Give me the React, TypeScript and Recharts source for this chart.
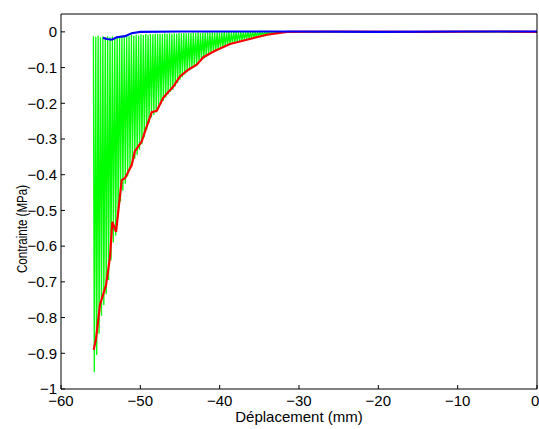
import React from 'react'
import { LineChart, Line, XAxis, YAxis } from 'recharts'

// displacement (mm) / stress (MPa)
const greenX = [
  -55.92, -55.8, -55.62, -55.5, -55.32, -55.2, -55.02, -54.9, -54.72, -54.6,
  -54.42, -54.3, -54.12, -54.0, -53.82, -53.7, -53.52, -53.4, -53.22, -53.1,
  -52.92, -52.8, -52.62, -52.5, -52.32, -52.2, -52.02, -51.9, -51.72, -51.6,
  -51.42, -51.3, -51.12, -51.0, -50.82, -50.7, -50.52, -50.4, -50.22, -50.1,
  -49.92, -49.8, -49.62, -49.5, -49.32, -49.2, -49.02, -48.9, -48.72, -48.6,
  -48.42, -48.3, -48.12, -48.0, -47.82, -47.7, -47.52, -47.4, -47.22, -47.1,
  -46.92, -46.8, -46.62, -46.5, -46.32, -46.2, -46.02, -45.9, -45.72, -45.6,
  -45.42, -45.3, -45.12, -45.0, -44.82, -44.7, -44.52, -44.4, -44.22, -44.1,
  -43.92, -43.8, -43.62, -43.5, -43.32, -43.2, -43.02, -42.9, -42.72, -42.6,
  -42.42, -42.3, -42.12, -42.0, -41.82, -41.7, -41.52, -41.4, -41.22, -41.1,
  -40.92, -40.8, -40.62, -40.5, -40.32, -40.2, -40.02, -39.9, -39.72, -39.6,
  -39.42, -39.3, -39.12, -39.0, -38.82, -38.7, -38.52, -38.4, -38.22, -38.1,
  -37.92, -37.8, -37.62, -37.5, -37.32, -37.2, -37.02, -36.9, -36.72, -36.6,
  -36.42, -36.3, -36.12, -36.0, -35.82, -35.7, -35.52, -35.4, -35.22, -35.1,
  -34.92, -34.8, -34.62, -34.5, -34.32, -34.2, -34.02, -33.9, -33.72, -33.6,
  -33.42, -33.3, -33.12, -33.0, -32.82, -32.7, -32.52, -32.4, -32.22, -32.1,
  -31.92, -20, 0,
]
const greenY = [
  -0.012, -0.953, -0.014, -0.905, -0.011, -0.845, -0.015, -0.795, -0.013, -0.765,
  -0.016, -0.735, -0.012, -0.695, -0.015, -0.64, -0.013, -0.59, -0.016, -0.57,
  -0.012, -0.52, -0.014, -0.475, -0.011, -0.445, -0.013, -0.425, -0.01, -0.405,
  -0.012, -0.385, -0.009, -0.37, -0.011, -0.355, -0.008, -0.345, -0.01, -0.33,
  -0.007, -0.315, -0.009, -0.295, -0.006, -0.275, -0.008, -0.255, -0.006, -0.24,
  -0.007, -0.233, -0.005, -0.226, -0.006, -0.214, -0.005, -0.203, -0.006, -0.193,
  -0.004, -0.184, -0.005, -0.175, -0.004, -0.168, -0.005, -0.162, -0.004, -0.153,
  -0.005, -0.143, -0.003, -0.134, -0.004, -0.127, -0.003, -0.119, -0.004, -0.113,
  -0.003, -0.108, -0.003, -0.103, -0.002, -0.099, -0.003, -0.095, -0.002, -0.087,
  -0.003, -0.081, -0.002, -0.075, -0.002, -0.069, -0.001, -0.065, -0.002, -0.061,
  -0.001, -0.058, -0.002, -0.055, -0.001, -0.051, -0.001, -0.048, -0.001, -0.045,
  0, -0.042, -0.001, -0.039, 0, -0.036, -0.001, -0.033, 0, -0.031,
  0, -0.029, -0.001, -0.027, 0, -0.025, 0, -0.023, 0, -0.021,
  0, -0.019, 0, -0.017, 0, -0.016, 0, -0.014, 0, -0.013,
  0, -0.011, 0, -0.01, 0, -0.009, 0, -0.008, 0, -0.007,
  0, -0.006, 0, -0.005, 0, -0.004, 0, -0.003, 0, -0.002,
  0, 0, 0,
]

const redX = [
  -55.88, -55.59, -55.08, -54.33, -53.82, -53.53, -53.06, -52.35, -51.93, -51.09,
  -50.7, -49.83, -49.28, -48.56, -47.93, -47.1, -45.84, -45.0, -43.95, -42.89,
  -42.06, -40.58, -38.69, -36.58, -34.06, -31.5, -25, -15, -5, 0,
]
const redY = [
  -0.89, -0.86, -0.763, -0.71, -0.63, -0.532, -0.56, -0.415, -0.41, -0.373,
  -0.335, -0.307, -0.27, -0.225, -0.221, -0.184, -0.153, -0.125, -0.106, -0.092,
  -0.071, -0.053, -0.034, -0.022, -0.008, 0, 0.001, 0, 0.001, 0,
]

const blueX = [-54.7, -54.2, -53.6, -52.97, -51.93, -51.09, -50.0, -45, -40, -30, -20, -10, 0]
const blueY = [-0.017, -0.02, -0.022, -0.015, -0.012, -0.004, 0, 0.001, 0.001, 0.001, 0, 0.001, 0.001]

const xTicks = [-60, -50, -40, -30, -20, -10, 0]
const yTicks = [-1, -0.9, -0.8, -0.7, -0.6, -0.5, -0.4, -0.3, -0.2, -0.1, 0]

const toPoints = (xs: number[], ys: number[]) => xs.map((x, i) => ({ x, y: ys[i] }))
const greenData = toPoints(greenX, greenY)
const redData = toPoints(redX, redY)
const blueData = toPoints(blueX, blueY)

const FONT = '"Liberation Sans", Arial, Helvetica, sans-serif'
const fmt = (v: number) => (v < 0 ? '\u2212' + String(Math.abs(v)) : String(v))
const tickStyle = { fill: '#000', fontSize: 15, fontFamily: FONT }

export default function App() {
  return (
    <div style={{ position: 'absolute', left: 0, top: 0, width: 539, height: 429, background: '#fff' }}>
      <LineChart width={539} height={429} margin={{ top: 0, right: 0, bottom: 0, left: 0 }}>
        <XAxis
          xAxisId="b"
          type="number"
          dataKey="x"
          domain={[-60, 0]}
          ticks={xTicks}
          allowDataOverflow
          tickFormatter={fmt}
          height={40}
          tickSize={-4}
          tickMargin={10}
          stroke="#000"
          tick={tickStyle}
          label={{
            content: () => (
              <text x={299} y={422} textAnchor="middle" fontSize={15} fontFamily={FONT} fill="#000">
                Déplacement (mm)
              </text>
            ),
          }}
        />
        <XAxis
          xAxisId="t"
          orientation="top"
          type="number"
          dataKey="x"
          domain={[-60, 0]}
          ticks={xTicks}
          allowDataOverflow
          height={14}
          tickSize={-4}
          tick={false}
          stroke="#000"
        />
        <YAxis
          yAxisId="l"
          type="number"
          domain={[-1, 0.05]}
          ticks={yTicks}
          allowDataOverflow
          tickFormatter={fmt}
          width={61}
          tickSize={-4}
          tickMargin={8}
          stroke="#000"
          tick={tickStyle}
          label={{
            content: () => (
              <text
                x={27}
                y={229}
                transform="rotate(-90, 27, 229)"
                textAnchor="middle"
                fontSize={15}
                fontFamily={FONT}
                fill="#000"
                textLength={88}
                lengthAdjust="spacingAndGlyphs"
              >
                Contrainte (MPa)
              </text>
            ),
          }}
        />
        <YAxis
          yAxisId="r"
          orientation="right"
          type="number"
          domain={[-1, 0.05]}
          ticks={yTicks}
          allowDataOverflow
          width={2}
          tickSize={-4}
          tick={false}
          stroke="#000"
        />
        <Line
          xAxisId="b"
          yAxisId="l"
          data={greenData}
          dataKey="y"
          stroke="#00ff00"
          strokeWidth={1.3}
          dot={false}
          isAnimationActive={false}
        />
        <Line
          xAxisId="b"
          yAxisId="l"
          data={redData}
          dataKey="y"
          stroke="#ff0000"
          strokeWidth={2.2}
          dot={false}
          isAnimationActive={false}
        />
        <Line
          xAxisId="b"
          yAxisId="l"
          data={blueData}
          dataKey="y"
          stroke="#0000ff"
          strokeWidth={2.2}
          dot={false}
          isAnimationActive={false}
        />
      </LineChart>
    </div>
  )
}
